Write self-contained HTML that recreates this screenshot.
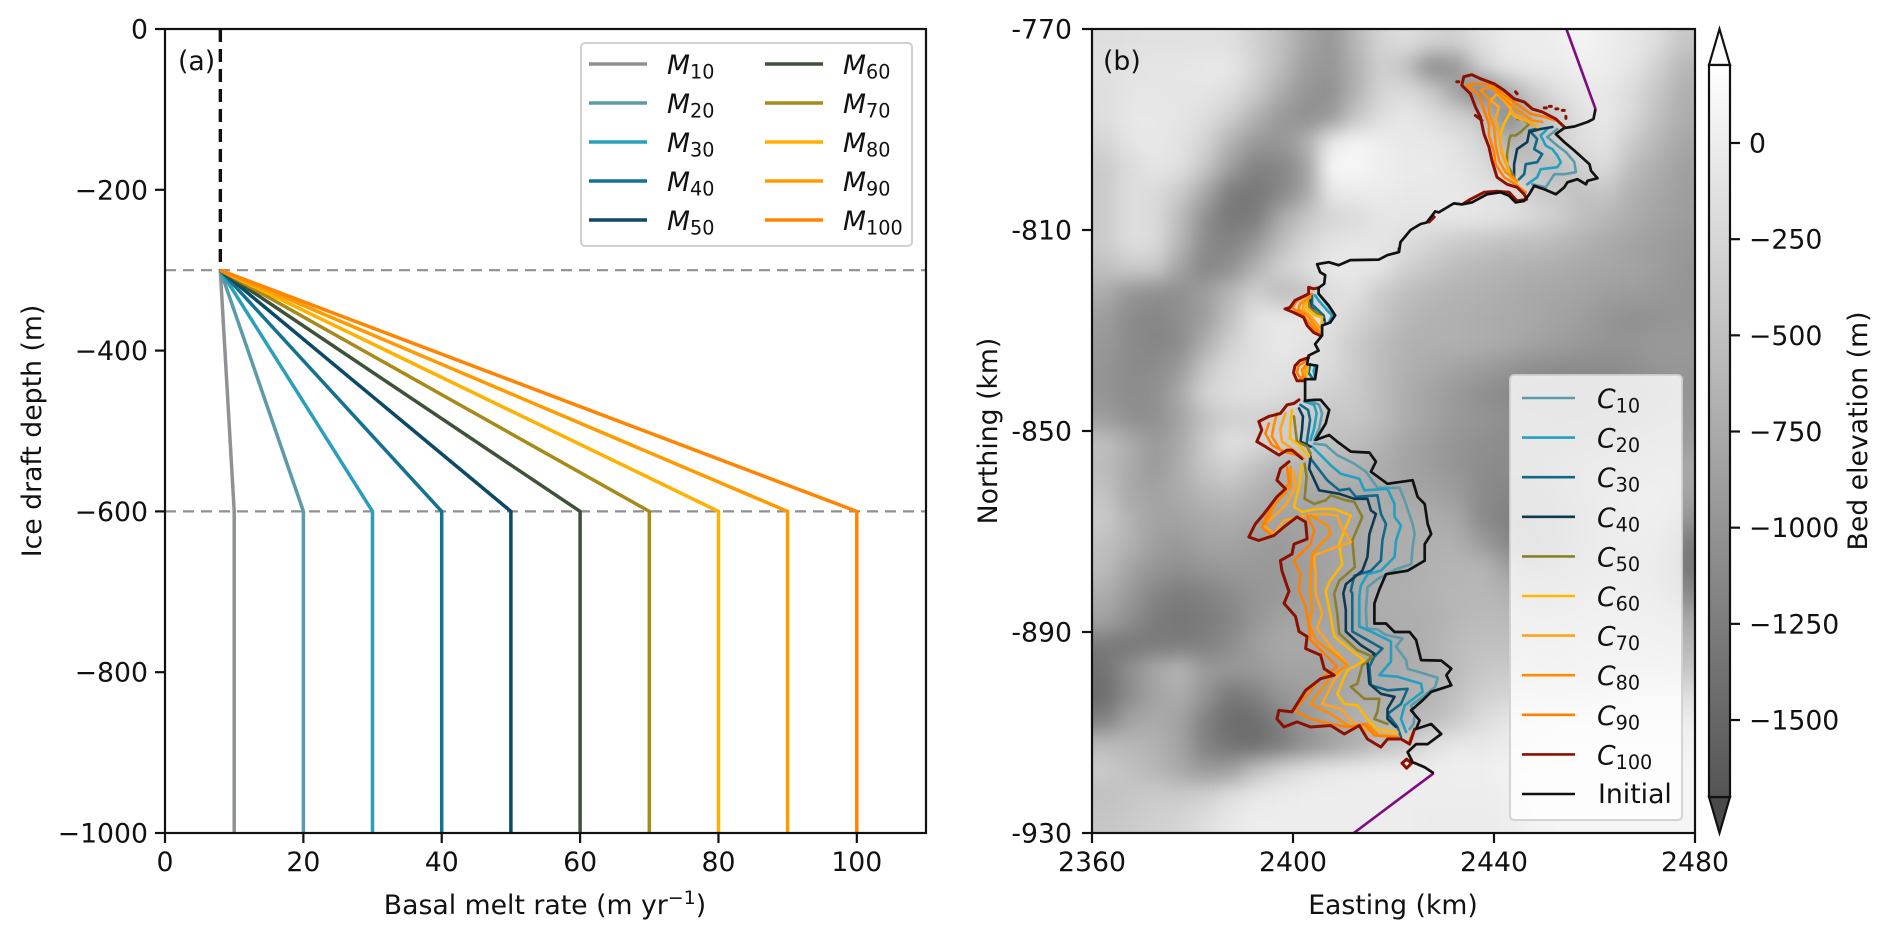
<!DOCTYPE html>
<html lang="en">
<head>
<meta charset="utf-8">
<title>Basal melt rate profiles and calving front contours</title>
<style>
html,body{margin:0;padding:0;background:#fff}
svg{display:block}
text{font-family:"DejaVu Sans","Liberation Sans",sans-serif;fill:#111}
</style>
</head>
<body>
<svg id="figure" xmlns="http://www.w3.org/2000/svg" width="1892" height="938" viewBox="0 0 1892 938">
<defs>
<clipPath id="map-clip"><rect x="1092" y="29" width="603" height="804"/></clipPath>
<clipPath id="melt-clip"><rect x="165" y="29" width="761" height="804"/></clipPath>
<filter id="bed-blur" filterUnits="userSpaceOnUse" x="1000" y="-60" width="800" height="1000" color-interpolation-filters="sRGB"><feGaussianBlur stdDeviation="10"/></filter>
<linearGradient id="cbar-gradient" x1="0" y1="0" x2="0" y2="1"><stop offset="0" stop-color="#ffffff"/><stop offset="1" stop-color="#555555"/></linearGradient>
</defs>
<g id="panel-a"></g>
<g id="panel-b"></g>
<g id="panel-c"></g>
<text x="545" y="914" font-size="26.7" text-anchor="middle">Basal melt rate (m yr<tspan font-size="19" dy="-10">−1</tspan><tspan dy="10">)</tspan></text>
<text transform="translate(41,431) rotate(-90)" font-size="26.7" text-anchor="middle">Ice draft depth (m)</text>
<text x="178" y="70" font-size="26.7">(a)</text>
<text x="1393" y="914" font-size="26.7" text-anchor="middle">Easting (km)</text>
<text transform="translate(997,431) rotate(-90)" font-size="26.7" text-anchor="middle">Northing (km)</text>
<text x="1103" y="70" font-size="26.7">(b)</text>
<text transform="translate(1867,431) rotate(-90)" font-size="26.7" text-anchor="middle">Bed elevation (m)</text>
</svg>
<script>
// ---------- Panel (a) data ----------
const meltRates = [10, 20, 30, 40, 50, 60, 70, 80, 90, 100];
const meltColors = ['#8f9294', '#5b9aa8', '#2a9fbc', '#13728f', '#0b4a66', '#3e5238', '#a78a17', '#ffb000', '#ff9a00', '#ff8500'];
const surfaceMelt = 8;
const profileDepths = [0, -300, -600, -1000];
const meltXTicks = [0, 20, 40, 60, 80, 100];
const meltYTicks = [0, -200, -400, -600, -800, -1000];
const meltRefDepths = [-300, -600];

// ---------- Panel (b) data ----------
const mapXTicks = [2360, 2400, 2440, 2480];
const mapYTicks = [-770, -810, -850, -890, -930];
const cbarTicks = [0, -250, -500, -750, -1000, -1250, -1500];
const contourLevels = [10, 20, 30, 40, 50, 60, 70, 80, 90, 100];
const contourColors = ['#5b9bab', '#22a0c2', '#11698a', '#0d3a52', '#8a7f2a', '#ffb700', '#ffa31a', '#ff8c00', '#ff8000', '#8b1000'];

// Bed elevation in metres, 5 km cells, north to south
const bedRow00 = [-170,-150,-130,-130,-130,-150,-310,-500,-790,-990,-610,-280,-170,-280,-310,-130,-20,-20,0,90,0,-60,-170,-440];
const bedRow01 = [-130,-110,-90,-90,-60,-60,-280,-550,-880,-990,-680,-330,-500,-1100,-990,-330,-90,-40,-20,20,0,-90,-310,-610];
const bedRow02 = [-170,-90,-90,-90,-90,-170,-390,-720,-990,-1050,-660,-280,-200,-390,-830,-1270,-770,-390,-170,-60,-60,-200,-440,-680];
const bedRow03 = [-170,-60,-60,-90,-170,-350,-660,-940,-1050,-940,-440,-170,-60,-170,-310,-440,-1160,-660,-390,-130,-60,-220,-500,-720];
const bedRow04 = [-280,-90,-60,-110,-280,-660,-940,-990,-720,-60,90,0,-60,-60,-110,-280,-680,-550,-330,-170,-110,-390,-610,-790];
const bedRow05 = [-390,-200,-90,-130,-440,-880,-1210,-1160,-880,110,110,20,-20,-40,-90,-170,-440,-500,-550,-310,-200,-550,-720,-860];
const bedRow06 = [-390,-170,-200,-390,-770,-1270,-1320,-1160,-830,-60,-20,-20,-60,-60,-60,-110,-110,-350,-390,-500,-440,-680,-770,-880];
const bedRow07 = [-390,-170,-200,-550,-1050,-1320,-1270,-770,-440,-280,-200,-90,-90,-90,-60,-90,-130,-220,-350,-500,-610,-720,-830,-900];
const bedRow08 = [-390,-170,-200,-610,-1100,-1210,-990,-550,-280,-110,-90,-90,-170,-280,-390,-440,-500,-530,-570,-660,-750,-830,-880,-940];
const bedRow09 = [-500,-390,-390,-830,-1160,-1050,-660,-330,-170,-60,-60,-90,-330,-440,-550,-610,-660,-680,-720,-770,-790,-830,-880,-970];
const bedRow10 = [-720,-990,-1050,-1050,-880,-610,-330,-550,-500,-170,-130,-390,-530,-610,-660,-680,-720,-770,-790,-830,-880,-900,-940,-990];
const bedRow11 = [-880,-1100,-1160,-1050,-880,-500,-110,-60,-60,-130,-280,-440,-610,-660,-680,-720,-750,-770,-830,-880,-990,-1050,-1010,-990];
const bedRow12 = [-940,-1100,-1160,-1100,-720,-330,-130,-60,-110,-200,-390,-550,-660,-680,-680,-720,-750,-830,-880,-940,-990,-990,-940,-940];
const bedRow13 = [-990,-1100,-1100,-940,-440,-200,-130,-110,-170,-200,-390,-550,-680,-750,-830,-900,-990,-1050,-1080,-1100,-1100,-1050,-990,-970];
const bedRow14 = [-990,-1100,-1050,-770,-280,-170,-130,-170,-280,-330,-390,-550,-720,-830,-940,-1050,-1120,-1160,-1160,-1160,-1120,-1100,-1050,-990];
const bedRow15 = [-880,-1050,-1050,-830,-500,-310,-330,-390,-390,-440,-440,-550,-720,-830,-940,-990,-1050,-1100,-1120,-1120,-1100,-1050,-990,-940];
const bedRow16 = [-500,-720,-940,-770,-390,-130,-220,-330,-390,-500,-550,-660,-790,-900,-990,-1050,-1080,-1100,-1100,-1050,-990,-940,-880,-880];
const bedRow17 = [-550,-750,-940,-720,-440,-330,-500,-660,-660,-610,-660,-720,-830,-900,-990,-1080,-1100,-1100,-990,-940,-880,-830,-770,-770];
const bedRow18 = [-460,-770,-830,-750,-610,-550,-660,-770,-770,-770,-770,-750,-770,-830,-900,-1100,-1160,-1160,-1050,-940,-830,-720,-660,-830];
const bedRow19 = [-390,-660,-830,-830,-750,-720,-770,-830,-830,-830,-770,-720,-720,-720,-770,-1100,-1210,-1270,-1160,-990,-830,-720,-720,-990];
const bedRow20 = [-500,-660,-880,-940,-830,-830,-880,-940,-830,-830,-770,-720,-720,-680,-680,-880,-1120,-1270,-1160,-990,-830,-770,-830,-1270];
const bedRow21 = [-550,-830,-990,-1050,-990,-940,-940,-940,-880,-830,-770,-720,-720,-660,-640,-610,-830,-1050,-990,-880,-770,-770,-880,-1320];
const bedRow22 = [-720,-940,-1160,-1270,-1210,-1100,-990,-940,-880,-830,-750,-720,-680,-660,-610,-610,-660,-830,-830,-720,-660,-680,-830,-1100];
const bedRow23 = [-830,-1050,-1270,-1320,-1270,-1160,-990,-830,-830,-830,-770,-720,-720,-680,-610,-570,-570,-660,-660,-610,-550,-610,-660,-770];
const bedRow24 = [-1270,-1320,-1270,-1270,-1210,-1100,-880,-770,-770,-770,-750,-750,-720,-680,-550,-500,-500,-550,-550,-500,-500,-500,-550,-610];
const bedRow25 = [-1380,-1050,-770,-610,-940,-940,-940,-830,-830,-830,-770,-750,-720,-680,-550,-440,-390,-440,-500,-440,-390,-390,-390,-440];
const bedRow26 = [-1430,-1100,-830,-720,-990,-1320,-1210,-990,-880,-830,-750,-720,-680,-640,-500,-330,-280,-280,-280,-280,-220,-170,-170,-170];
const bedRow27 = [-1210,-830,-750,-830,-1210,-1430,-1430,-1210,-940,-770,-660,-660,-640,-550,-390,-200,-90,-60,-20,0,0,0,0,0];
const bedRow28 = [-550,-610,-660,-830,-1210,-1380,-1430,-1270,-1050,-880,-720,-500,-390,-170,-60,-60,-20,0,60,60,60,60,60,60];
const bedRow29 = [-390,-500,-610,-770,-940,-880,-500,-280,-130,-60,-20,0,0,0,20,20,60,60,60,90,90,90,90,90];
const bedRow30 = [-500,-440,-390,-390,-330,-170,-60,-20,0,0,0,0,0,0,0,0,20,60,60,90,90,90,90,90];
const bedRow31 = [-440,-390,-330,-280,-170,-60,0,0,0,0,0,0,0,-20,-20,-20,0,60,90,90,90,90,90,90];
const bedRows = [bedRow00,bedRow01,bedRow02,bedRow03,bedRow04,bedRow05,bedRow06,bedRow07,bedRow08,bedRow09,bedRow10,bedRow11,bedRow12,bedRow13,bedRow14,bedRow15,bedRow16,bedRow17,bedRow18,bedRow19,bedRow20,bedRow21,bedRow22,bedRow23,bedRow24,bedRow25,bedRow26,bedRow27,bedRow28,bedRow29,bedRow30,bedRow31];

// Grounding / front lines: flat easting, northing pairs (km)
const purpleNorth = [2454.4,-770, 2460.2,-785.9];
const purpleSouth = [2428,-918.1, 2412.1,-930];
const initialFront = [2460.2,-785.9, 2459.8,-787.9, 2458.6,-788.5, 2456,-789.4, 2454,-789.7, 2452.3,-790.9, 2454,-792.5, 2456,-794.2, 2459,-796.9, 2459.3,-798.2, 2460.6,-799.7, 2458.6,-800.2, 2458.3,-800.9, 2456.6,-799.9, 2454.6,-800.5, 2454,-801.5, 2452.3,-802.9, 2450,-801.9, 2448,-801.2, 2447,-802.9, 2446,-804.2, 2444.3,-804.5, 2443,-803.2, 2441.3,-802.5, 2438.6,-802.9, 2435.6,-804.5, 2433.6,-804.9, 2432,-804.7, 2429,-806.5, 2428.3,-806.3, 2426.6,-808.5, 2425.4,-808.8, 2423.4,-810, 2421.4,-812.4, 2421.1,-814.4, 2418.8,-815, 2417.1,-815.9, 2411.4,-816, 2409.1,-817, 2407.1,-816.4, 2404.8,-816.8, 2405.4,-818.4, 2406.4,-819, 2406.2,-820.7, 2405.1,-821.5, 2405.1,-822.7, 2407.1,-825, 2408.4,-827, 2407.4,-828.4, 2405.8,-829, 2405.8,-831, 2404.4,-832.7, 2405.1,-834, 2403.1,-835, 2402.8,-836.7, 2404.8,-837, 2404.4,-839.7, 2402.4,-839.7, 2402.4,-844, 2404.2,-843.8, 2405.5,-843.8, 2407.2,-845.8, 2406.5,-848.5, 2404.5,-851.8, 2407.2,-850.8, 2408.8,-852.1, 2411.5,-854.1, 2415.2,-854.3, 2416.5,-856.1, 2415.5,-858.1, 2418.8,-860.5, 2423.8,-859.8, 2424.8,-863.1, 2426.2,-864.5, 2426.8,-868.5, 2427.5,-870.5, 2426.2,-872.5, 2426.2,-875.8, 2422.8,-877.8, 2418.5,-878.5, 2417.2,-881.5, 2416.2,-884.3, 2416.2,-888.3, 2418.5,-888.3, 2420.2,-890, 2423.2,-890, 2424.5,-891.6, 2425.5,-895.6, 2429.5,-895.7, 2431.5,-897.3, 2430.5,-898.6, 2431.5,-900.6, 2427.5,-901.9, 2425.8,-903.6, 2423.5,-905.6, 2425.2,-907.6, 2424.5,-909.3, 2427.5,-908.3, 2429.5,-910.3, 2426.8,-912.3, 2424.5,-912.3, 2422.8,-913.9, 2423.8,-915.9, 2426.2,-916.9, 2428,-918.1];

const c10Lines = [
 [2452.6,-789.9, 2450.6,-791.5, 2452.6,-793.2, 2454.3,-794.5, 2456,-796.5, 2456.3,-798.5, 2454,-798.9, 2452,-798.9, 2450.3,-801.5, 2447.6,-800.9],
 [2405.1,-822.7, 2406.1,-824, 2407.4,-825.7, 2408.1,-827, 2407.4,-828.4],
 [2403.2,-843.8, 2405.2,-844.8, 2405.8,-846.5, 2405.2,-849.5, 2404.2,-851.8],
 [2404.2,-852.5, 2406.5,-852.8, 2408.8,-854.8, 2412.2,-856.5, 2414.5,-858.1, 2416.8,-861.3, 2421.2,-861.3, 2422.2,-863.8, 2423.8,-868.5, 2424.2,-870.5, 2423.8,-873.1, 2423.5,-876.5, 2420.5,-877.5, 2416.8,-879.5, 2414.8,-881.1, 2414.8,-881.6, 2414.5,-885.6, 2414.7,-889.3, 2416.8,-889.5, 2418.5,-890.6, 2421.8,-891.3, 2420.5,-892.9, 2422.5,-895.6, 2422.8,-897.3, 2426.2,-898.3, 2428.8,-899.1, 2428.3,-900.9, 2425.8,-902.9, 2423.5,-904.6, 2424.2,-906.6, 2424,-908.3, 2423.2,-909.3]
];
const c20Lines = [
 [2450.6,-789.9, 2449.3,-791.2, 2450.3,-793.2, 2451.6,-793.9, 2452.6,-795.2, 2453.3,-796.5, 2452.6,-797.5, 2449.3,-797.9, 2448.6,-799.5, 2446.6,-800.9],
 [2404.4,-823, 2405.1,-824, 2406.8,-826, 2407.8,-827, 2407.1,-828.4],
 [2404.4,-837, 2404.1,-838, 2404.4,-839.4],
 [2402.2,-844.1, 2404.2,-844.8, 2404.7,-846.5, 2404.2,-849.5, 2403.5,-851.8],
 [2403.8,-853.1, 2405.5,-854.8, 2407.5,-856.8, 2409.5,-858.5, 2413.2,-859.5, 2414.2,-861.8, 2418.8,-861.5, 2420.2,-864.5, 2420.2,-867.1, 2421.5,-868.8, 2420.5,-871.8, 2420.2,-875.1, 2417.5,-877.8, 2414.8,-878.5, 2413.5,-880.8, 2413.2,-882.9, 2413.2,-888.9, 2415.5,-889.9, 2419.5,-891.9, 2419.5,-895.9, 2417.2,-898.6, 2420.8,-898.9, 2425.5,-900.3, 2425.8,-901.9, 2422.2,-904.6, 2421.5,-907.3, 2422.5,-909.9]
];
const c30Lines = [
 [2448.3,-789.9, 2447,-790.2, 2448.6,-791.9, 2448,-793.9, 2449.6,-794.9, 2448.6,-796.5, 2446.3,-796.9, 2446,-798.9, 2445,-799.9],
 [2403.8,-823, 2403.8,-824.8, 2406.1,-827, 2406.4,-828.6],
 [2403.4,-836.7, 2403.1,-838.4, 2403.8,-839.4],
 [2401.5,-844.8, 2403,-845.8, 2403.4,-847.8, 2403,-850.5, 2402.7,-852.5],
 [2403.2,-855.1, 2404.5,-856.8, 2406.8,-859.8, 2409.2,-861.8, 2411.2,-861.5, 2412.5,-863.1, 2416.8,-862.8, 2417.5,-866.5, 2418.5,-868.5, 2417.8,-871.8, 2417.5,-875.8, 2415.5,-877.8, 2412.2,-878.8, 2411.5,-881.8, 2411.8,-882.3, 2411.8,-889.9, 2414.8,-891.6, 2417.8,-893.3, 2416.2,-894.9, 2415.2,-896.9, 2415.5,-900.6, 2418.8,-901.6, 2422.8,-901.3, 2421.5,-904.3, 2418.8,-906.3, 2420.8,-908.9, 2421.5,-910.9]
];
const c40Lines = [
 [2451.6,-789.5, 2449.3,-789.9, 2447,-790.5, 2446.6,-792.5, 2444.6,-793.9, 2444,-796.9, 2444,-799.5],
 [2403.4,-823.9, 2403.4,-825.2, 2406.2,-827.9],
 [2401.2,-845.5, 2402,-847.1, 2401.8,-849.8, 2401.5,-852.1, 2403.5,-853.1],
 [2403.5,-855.1, 2403.2,-857.5, 2405.2,-861.8, 2409.2,-862.5, 2412.2,-863.5, 2414.8,-863.5, 2415.5,-865.8, 2416.5,-866.5, 2415.2,-870.5, 2414.8,-875.1, 2413.8,-877.8, 2410.5,-880.5, 2410,-882.3, 2410.5,-885.6, 2410.5,-889.9, 2413.5,-892.6, 2416.2,-894.3, 2414.8,-895.9, 2415.2,-900.3, 2417.5,-902.3, 2420.2,-902.9, 2418.8,-905.3, 2418.8,-907.3, 2420.5,-908.9]
];
const c50Lines = [
 [2444.6,-787.9, 2445.6,-787.9, 2447,-788.9, 2445.3,-790.5, 2444.3,-791.2, 2443.3,-791.2, 2443,-792.2, 2442.6,-794.9, 2442.6,-796.9, 2443.3,-798.2, 2444,-799.5],
 [2403.1,-824.4, 2403.3,-825.5, 2405.8,-827.2],
 [2400.2,-847.1, 2400.5,-849.8, 2400.8,-852.1, 2402.8,-853.1, 2403.5,-854.5],
 [2402.3,-856.5, 2402.7,-859.1, 2402.3,-863.5, 2404.2,-864.5, 2406.5,-863.8, 2407.5,-862.8, 2410.5,-863.8, 2412.2,-864.1, 2413.8,-867.1, 2411.8,-871.8, 2412.3,-877.1, 2409.2,-879.8, 2408.2,-882.3, 2408.8,-886.3, 2409.2,-890.3, 2412.8,-893.6, 2415.8,-894.9, 2413.8,-896.6, 2412.8,-900.3, 2411.5,-900.9, 2414.2,-903.3, 2417.2,-903.3, 2416.8,-905.9, 2416.2,-907.3, 2418.8,-908.3]
];
const c60Lines = [
 [2444.6,-800.5, 2443.3,-799.5, 2442.6,-796.9, 2441.3,-793.5, 2441.3,-790.9, 2442,-788.9, 2443.3,-786.5, 2444.3,-787.5, 2447,-788.5, 2448.6,-789.5],
 [2443.3,-786.5, 2443.3,-784.5, 2442,-783.5],
 [2402.8,-824, 2402.6,-825.4, 2404.4,-827, 2405.8,-827.4, 2405.6,-829.7],
 [2402.9,-836, 2402.9,-837.7, 2402.6,-839.4],
 [2399.8,-845.8, 2399.5,-848.5, 2399.4,-851.5, 2401.2,-852.8, 2403.2,-855.1],
 [2401.8,-856.8, 2401.2,-861.1, 2400.2,-865.1, 2401.8,-866.1, 2404.8,-865.5, 2408.2,-865.5, 2411.5,-866.8, 2410.2,-869.8, 2409.2,-872.5, 2409.8,-876.5, 2407.2,-880.1, 2406.5,-881.9, 2407.5,-886.9, 2408.2,-890.9, 2411.5,-893.6, 2414.2,-895.7, 2410.8,-897.6, 2408.8,-902.3, 2410.2,-904.3, 2412.8,-904.6, 2414.8,-907.3, 2416.8,-909.3, 2420.8,-909.9]
];
const c70Lines = [
 [2448,-789.2, 2444,-786.9, 2442,-784.2, 2440.6,-782.9, 2439.3,-784.2, 2441,-785.5, 2440.3,-787.9, 2441,-790.9, 2441.6,-794.9, 2443,-798.5],
 [2403.1,-823.7, 2402.1,-824.8, 2402,-825.7, 2403.4,-827, 2404.8,-828.7, 2405.6,-829.7],
 [2402.6,-837, 2402.4,-838, 2402.4,-839],
 [2398.5,-846.5, 2397.5,-849.5, 2397.8,-852.1, 2399.8,-853.5, 2402.2,-855.5],
 [2400.2,-858.1, 2400.5,-861.1, 2398.5,-864.8, 2394.2,-868.8, 2396.2,-870.5, 2398.2,-867.8, 2402.8,-866.8, 2406.2,-866.5, 2408.8,-866.8, 2409.5,-868.8, 2411.5,-872.1, 2407.5,-873.5, 2404.2,-874.8, 2404.5,-878.5, 2404.5,-882.3, 2405.8,-886.3, 2404.8,-889.3, 2407.5,-892.9, 2410.8,-896.3, 2408.2,-899.6, 2405.8,-904.3, 2409.5,-905.3, 2411.8,-907.9, 2416.2,-910.3, 2420.8,-910.6]
];
const c80Lines = [
 [2449.6,-788.5, 2447.6,-788.2, 2444.3,-785.9, 2441.3,-783.2, 2439.3,-781.5, 2437.3,-782.2, 2439,-783.9, 2439,-786.9, 2440,-789.5, 2440.3,-792.9, 2441,-796.2, 2442.3,-798.5, 2444.6,-800.2],
 [2403.4,-823.4, 2401.4,-824.7, 2401.1,-825.7, 2402.8,-827, 2404.1,-828.7, 2405.4,-830.4],
 [2402.8,-836.7, 2401.8,-837.7, 2402,-839],
 [2396.8,-846.5, 2396.2,-848.8, 2395.8,-851.1, 2397.5,-853.8, 2401.2,-854.8],
 [2399.5,-857.1, 2399.5,-861.1, 2396.5,-864.5, 2394.5,-868.5],
 [2403.5,-866.8, 2406.8,-868.8, 2407.5,-870.5, 2405.5,-872.5, 2403.8,-874.5, 2403.5,-878.5, 2403.5,-882.3, 2403.8,-885.6, 2403.2,-888.3, 2404.5,-891.6, 2408.8,-894.9, 2410.8,-896.6, 2407.5,-898.9, 2403.5,-904.3, 2407.5,-906.3, 2411.5,-908.9, 2414.8,-908.3, 2416.8,-910.3]
];
const c90Lines = [
 [2452.3,-788.2, 2450,-787.5, 2447.3,-786.9, 2444,-784.5, 2441.3,-782.5, 2439.3,-780.9, 2436.3,-780.9, 2434.6,-781.2, 2437,-783.2, 2438,-786.2, 2439,-788.9, 2439,-791.2, 2440,-794.5, 2440.3,-796.9, 2442,-799.5, 2444.3,-800.9, 2446.3,-802.5],
 [2403.8,-822.7, 2400.8,-824, 2399.8,-825.5, 2401.8,-826.7, 2403.1,-828.4, 2404.8,-830.4],
 [2402.8,-836, 2401.1,-837, 2400.8,-838.4, 2401.4,-839.4, 2402.4,-839.4],
 [2395.2,-848.5, 2394.5,-850.5, 2395.8,-852.8, 2398.2,-854.1, 2400.8,-854.8],
 [2398.8,-857.1, 2399.2,-860.5, 2396.2,-863.8, 2393.8,-869.1, 2395.8,-870.8],
 [2402.8,-866.8, 2404.2,-869.8, 2403.5,-872.5, 2400.2,-875.8, 2401.5,-878.5, 2401.2,-881.8, 2402.5,-884.9, 2403.2,-888.9, 2403.5,-891.6, 2405.8,-893.9, 2408.8,-896.9, 2405.5,-899.3, 2400.2,-905.6, 2403.5,-907.3, 2407.5,-908.3, 2410.8,-908.9, 2414.2,-908.3, 2416.2,-910.6, 2420.8,-910.9],
 [2423.2,-911.6, 2424.2,-909.3]
];
const c100Lines = [
 [2454,-789.5, 2452.3,-787.9, 2449.6,-786.5, 2447.6,-785.9, 2446,-784.5, 2444,-783.9, 2442,-782.2, 2440,-780.9, 2437.3,-779.9, 2435.6,-779.1, 2434,-779.5, 2433.6,-781.2, 2435.3,-782.9, 2436.3,-785.5, 2437.3,-787.5, 2438,-790.9, 2439,-793.5, 2439.6,-796.2, 2440.6,-799.5, 2442.6,-800.9, 2444.6,-801.5, 2446,-802.9, 2446.5,-803.9, 2444.6,-804.2, 2443,-802.5, 2440.6,-802.3, 2438,-802.5, 2435.3,-803.9, 2434,-804.7],
 [2450,-785.7, 2450.4,-785.7], [2451,-785.4, 2451.4,-785.4], [2452.3,-785.9, 2452.7,-785.9], [2453.6,-786.2, 2454,-786.2], [2454.3,-787.4, 2454.3,-787.8], [2444.3,-782.5, 2444.6,-782.9], [2432.6,-780.5, 2433,-780.5], [2436.3,-787.2, 2437.6,-788.2],
 [2427.1,-808.4, 2428.1,-807.4], [2421.1,-813.7, 2421.1,-814.2],
 [2405.1,-821.5, 2404.1,-821.7, 2403.1,-821.4, 2403.1,-822.7, 2400.4,-824, 2399.4,-825.4, 2398.4,-825.7, 2400.1,-826.4, 2402.1,-827.4, 2402.8,-829, 2404.1,-830.4, 2405.4,-831],
 [2403.1,-835.4, 2401.4,-836, 2400.4,-837, 2400.1,-838.4, 2400.8,-840, 2402.1,-840],
 [2401.2,-843.8, 2400.2,-844.5, 2398.8,-844.8, 2397.5,-846.5, 2395.2,-847.1, 2393.2,-848.1, 2393.8,-849.8, 2392.8,-852.1, 2394.5,-853.1, 2397.2,-854.8, 2398.8,-853.8, 2399.8,-853.8, 2401.8,-855.5],
 [2399.2,-856.1, 2397.5,-857.5, 2396.8,-859.8, 2398.5,-861.5, 2396.8,-863.1, 2394.2,-866.5, 2392.5,-868.5, 2391.2,-871.1, 2393.2,-871.8, 2396.2,-870.8, 2398.2,-869.1, 2400.8,-867.1, 2402.5,-868.1, 2402.8,-871.5, 2400.2,-872.5, 2399.8,-874.5, 2397.5,-875.8, 2397.8,-877.8, 2398.8,-880.8, 2399.2,-881.9, 2398.2,-884.3, 2400.5,-886.9, 2401.2,-889.9, 2402.8,-890.9, 2402.5,-893.3, 2405.5,-894.6, 2406.2,-897.3, 2408.2,-898.6, 2405.5,-899.3, 2402.5,-901.6, 2399.8,-905.9, 2397.2,-905.6, 2396.8,-907.3, 2398.2,-908.9, 2400.8,-907.9, 2403.5,-908.9, 2407.5,-908.6, 2410.2,-910.3, 2413.2,-908.6, 2414.8,-911.3, 2417.5,-912.9, 2418.8,-911.3, 2421.5,-911.3, 2423.2,-912.3, 2424.2,-909.3],
 [2421.7,-916.1, 2422.6,-915.3, 2423.6,-916.1, 2422.6,-917.1, 2421.7,-916.1]
];
const contourLines = [c10Lines, c20Lines, c30Lines, c40Lines, c50Lines, c60Lines, c70Lines, c80Lines, c90Lines, c100Lines];

// ---------- Axis functions ----------
const xA = v => 165 + (v - 0) * (926 - 165) / 110;
const yA = v => 29 + (0 - v) * (833 - 29) / 1000;
const xB = e => 1092 + (e - 2360) * (1695 - 1092) / 120;
const yB = n => 29 + (-770 - n) * (833 - 29) / 160;
const yC = v => 143 - v * (96.17 / 250);
const bedGray = v => {
  const g = Math.round(85 + Math.max(0, Math.min(1, (v + 1700) / 1900)) * 170);
  return 'rgb(' + g + ',' + g + ',' + g + ')';
};

// ---------- Helpers ----------
const NS = 'http://www.w3.org/2000/svg';
function make(tag, attrs, parent) {
  const n = document.createElementNS(NS, tag);
  for (const k in attrs) n.setAttribute(k, attrs[k]);
  parent.appendChild(n);
  return n;
}
const ptsFlat = a => {
  let s = [];
  for (let i = 0; i < a.length; i += 2) s.push(xB(a[i]).toFixed(1) + ',' + yB(a[i + 1]).toFixed(1));
  return s.join(' ');
};
const panelA = document.getElementById('panel-a');
const panelB = document.getElementById('panel-b');
const panelC = document.getElementById('panel-c');
const STROKE = '#111';
const FS = 26.7;

// ---------- Panel (a) ----------
const meltPlot = make('g', {'clip-path': 'url(#melt-clip)'}, panelA);


const surfaceLine = make('line', {x1: xA(surfaceMelt), x2: xA(surfaceMelt), y1: yA(profileDepths[0]), y2: yA(profileDepths[1]), stroke: '#111', 'stroke-width': 3.4, 'stroke-dasharray': '13 7'}, meltPlot);


meltRefDepths.forEach(d => {
  const ref = make('line', {x1: xA(0), x2: xA(110), y1: yA(d), y2: yA(d), stroke: '#8f8f8f', 'stroke-width': 2.2, 'stroke-dasharray': '11 7'}, meltPlot);
  
  
});
meltRates.forEach((r, i) => {
  const p = [[surfaceMelt, profileDepths[1]], [r, profileDepths[2]], [r, profileDepths[3]]]
    .map(q => xA(q[0]).toFixed(1) + ',' + yA(q[1]).toFixed(1)).join(' ');
  const line = make('polyline', {points: p, fill: 'none', stroke: meltColors[i], 'stroke-width': 3.5}, meltPlot);
  
  
});
const frameA = make('rect', {x: 165, y: 29, width: 761, height: 804, fill: 'none', stroke: STROKE, 'stroke-width': 2.2}, panelA);


meltXTicks.forEach(t => {
  const tick = make('line', {x1: xA(t), x2: xA(t), y1: 833, y2: 843, stroke: STROKE, 'stroke-width': 2.2}, panelA);
  
  
  const lab = make('text', {x: xA(t), y: 871, 'font-size': FS, 'text-anchor': 'middle'}, panelA);
  lab.textContent = String(t);
  
  
});
meltYTicks.forEach(t => {
  const tick = make('line', {x1: 155, x2: 165, y1: yA(t), y2: yA(t), stroke: STROKE, 'stroke-width': 2.2}, panelA);
  
  
  const lab = make('text', {x: 148, y: yA(t) + 9.5, 'font-size': FS, 'text-anchor': 'end'}, panelA);
  lab.textContent = String(t).replace('-', '\u2212');
  
  
});
const legendA = make('g', {}, panelA);


const legendABox = make('rect', {x: 581, y: 43, width: 331, height: 203, rx: 4, fill: '#fff', 'fill-opacity': 0.8, stroke: '#d0d0d0', 'stroke-width': 2}, legendA);


meltRates.forEach((r, i) => {
  const col = i < 5 ? 0 : 1;
  const row = i % 5;
  const x0 = col ? 765 : 589;
  const y0 = 64 + row * 39;
  const entry = make('g', {}, legendA);
  
  
  const sw = make('line', {x1: x0, x2: x0 + 58, y1: y0, y2: y0, stroke: meltColors[i], 'stroke-width': 3.5}, entry);
  
  
  const t = make('text', {x: x0 + 78, y: y0 + 10, 'font-size': FS}, entry);
  
  
  const m = make('tspan', {'font-style': 'italic'}, t);
  m.textContent = 'M';
  const s = make('tspan', {'font-size': 19.2, dy: 4.5}, t);
  s.textContent = String(r);
});

// ---------- Panel (b) ----------
const mapPlot = make('g', {'clip-path': 'url(#map-clip)'}, panelB);


const heat = make('g', {filter: 'url(#bed-blur)'}, mapPlot);


bedRows.forEach((row, j) => {
  row.forEach((v, i) => {
    const e0 = 2360 + i * 5, n0 = -770 - j * 5;
    const padL = i === 0 ? 40 : 0, padR = i === row.length - 1 ? 40 : 0;
    const padT = j === 0 ? 40 : 0, padB = j === bedRows.length - 1 ? 40 : 0;
    const cell = make('rect', {
      x: xB(e0) - padL, y: yB(n0) - padT,
      width: xB(e0 + 5) - xB(e0) + padL + padR + 0.5,
      height: yB(n0 - 5) - yB(n0) + padT + padB + 0.5,
      fill: bedGray(v)
    }, heat);
    
    
  });
});
[purpleNorth, purpleSouth].forEach(a => {
  const pl = make('polyline', {points: ptsFlat(a), fill: 'none', stroke: '#800a80', 'stroke-width': 2.6}, mapPlot);
  
  
});
contourLines.forEach((set, k) => {
  const g = make('g', {}, mapPlot);
  
  
  set.forEach(a => {
    const pl = make('polyline', {points: ptsFlat(a), fill: 'none', stroke: contourColors[k], 'stroke-width': k === 9 ? 3 : 2.6, 'stroke-linejoin': 'round', 'stroke-linecap': 'round'}, g);
    
    
  });
});
const initial = make('polyline', {points: ptsFlat(initialFront), fill: 'none', stroke: '#111', 'stroke-width': 2.7, 'stroke-linejoin': 'round'}, mapPlot);



const legendB = make('g', {}, panelB);


const legendBBox = make('rect', {x: 1510, y: 375, width: 172, height: 445, rx: 4, fill: '#fff', 'fill-opacity': 0.8, stroke: '#cfcfcf', 'stroke-opacity': 0.9, 'stroke-width': 2}, legendB);


contourLevels.forEach((r, i) => {
  const y0 = 398 + i * 39.6;
  const entry = make('g', {}, legendB);
  
  
  const sw = make('line', {x1: 1522, x2: 1575, y1: y0, y2: y0, stroke: contourColors[i], 'stroke-width': 2.6}, entry);
  
  
  const t = make('text', {x: 1597, y: y0 + 10, 'font-size': FS}, entry);
  
  
  const m = make('tspan', {'font-style': 'italic'}, t);
  m.textContent = 'C';
  const s = make('tspan', {'font-size': 19.2, dy: 4.5}, t);
  s.textContent = String(r);
});
const initSw = make('line', {x1: 1522, x2: 1575, y1: 794, y2: 794, stroke: '#111', 'stroke-width': 2.6}, legendB);


const initLab = make('text', {x: 1598, y: 803, 'font-size': FS}, legendB);
initLab.textContent = 'Initial';



const frameB = make('rect', {x: 1092, y: 29, width: 603, height: 804, fill: 'none', stroke: STROKE, 'stroke-width': 2.2}, panelB);


mapXTicks.forEach(t => {
  const tick = make('line', {x1: xB(t), x2: xB(t), y1: 833, y2: 843, stroke: STROKE, 'stroke-width': 2.2}, panelB);
  
  
  const lab = make('text', {x: xB(t), y: 871, 'font-size': FS, 'text-anchor': 'middle'}, panelB);
  lab.textContent = String(t);
  
  
});
mapYTicks.forEach(t => {
  const tick = make('line', {x1: 1082, x2: 1092, y1: yB(t), y2: yB(t), stroke: STROKE, 'stroke-width': 2.2}, panelB);
  
  
  const lab = make('text', {x: 1072, y: yB(t) + 9.5, 'font-size': FS, 'text-anchor': 'end'}, panelB);
  lab.textContent = String(t);
  
  
});

// ---------- Colorbar ----------
const cbTop = make('polygon', {points: '1709,65 1719.5,29 1730,65', fill: '#ffffff', stroke: STROKE, 'stroke-width': 2.2}, panelC);


const cbBottom = make('polygon', {points: '1709,797 1719.5,833 1730,797', fill: '#4a4a4a', stroke: STROKE, 'stroke-width': 2.2}, panelC);


const cbBar = make('rect', {x: 1709, y: 65, width: 21, height: 732, fill: 'url(#cbar-gradient)', stroke: STROKE, 'stroke-width': 2.2}, panelC);


cbarTicks.forEach(t => {
  const tick = make('line', {x1: 1730, x2: 1740, y1: yC(t), y2: yC(t), stroke: STROKE, 'stroke-width': 2.2}, panelC);
  
  
  const lab = make('text', {x: 1749, y: yC(t) + 9.5, 'font-size': FS}, panelC);
  lab.textContent = String(t).replace('-', '\u2212');
  
  
});
</script>
</body>
</html>
